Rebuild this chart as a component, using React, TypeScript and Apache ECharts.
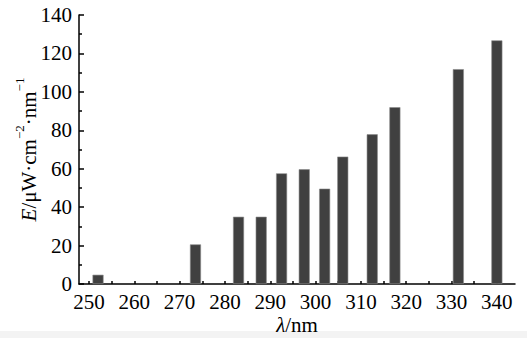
import React, { useEffect, useRef } from "react";
import * as echarts from "echarts";

const wavelengths = [252, 273.5, 283, 288, 292.5, 297.5, 302, 306, 312.5, 317.5, 331.5, 340];
const irradiance = [4.8, 20.6, 35, 35, 57.6, 59.7, 49.6, 66.3, 77.9, 92, 111.8, 126.8];
const xTickLabels = [250, 260, 270, 280, 290, 300, 310, 320, 330, 340];
const xTicks = [250, 255, 260, 265, 270, 275, 280, 285, 290, 295, 300, 305, 310, 315, 320, 325, 330, 335, 340];

const FONT = "Liberation Serif";

export default function App() {
  const ref = useRef<HTMLDivElement>(null);
  useEffect(() => {
    if (!ref.current) return;
    const chart = echarts.init(ref.current, null, { renderer: "svg" });
    chart.setOption({
      animation: false,
      backgroundColor: "#ffffff",
      grid: { left: 79, right: 12, top: 15, bottom: 54, containLabel: false, outerBoundsMode: "none" },
      graphic: [
        { type: "rect", left: 0, top: 331, shape: { width: 527, height: 7 }, style: { fill: "#f3f3f3" }, silent: true, z: -10 },
      ],
      xAxis: {
        type: "value",
        min: 247.8,
        max: 344,
        axisLine: { show: true, lineStyle: { color: "#000", width: 1.5 } },
        axisTick: { show: true, inside: true, length: 3, customValues: xTicks, lineStyle: { color: "#000", width: 1.5 } },
        axisLabel: { customValues: xTickLabels, fontFamily: FONT, fontSize: 21, color: "#000", margin: 7 },
        splitLine: { show: false },
        name: "{i|λ}{n|/nm}",
        nameLocation: "middle",
        nameGap: 30,
        nameMoveOverlap: false,
        nameTextStyle: {
          rich: {
            i: { fontFamily: FONT, fontSize: 21, fontStyle: "italic", color: "#000" },
            n: { fontFamily: FONT, fontSize: 21, color: "#000" },
          },
        },
      },
      yAxis: {
        type: "value",
        min: 0,
        max: 140,
        interval: 20,
        axisLine: { show: true, lineStyle: { color: "#000", width: 1.5 } },
        axisTick: { show: true, inside: true, length: 5, lineStyle: { color: "#000", width: 1.5 } },
        minorTick: { show: true, splitNumber: 2, length: 3, lineStyle: { color: "#000", width: 1.5 } },
        axisLabel: { fontFamily: FONT, fontSize: 21, color: "#000", margin: 7 },
        splitLine: { show: false },
        name: "{i|E}{n|/μW·cm}{s|−2}{n|·nm}{s|−1}",
        nameLocation: "middle",
        nameGap: 40,
        nameMoveOverlap: false,
        nameRotate: 90,
        nameTextStyle: {
          rich: {
            i: { fontFamily: FONT, fontSize: 21, fontStyle: "italic", color: "#000", lineHeight: 26, verticalAlign: "bottom" },
            n: { fontFamily: FONT, fontSize: 21, color: "#000", lineHeight: 26, verticalAlign: "bottom" },
            s: { fontFamily: FONT, fontSize: 13, color: "#000", lineHeight: 26, verticalAlign: "top" },
          },
        },
      },
      series: [
        {
          type: "bar",
          data: wavelengths.map((w, i) => [w, irradiance[i]]),
          barWidth: 11,
          itemStyle: { color: "#404040", borderColor: "#8a8a8a", borderWidth: 0.6 },
        },
      ],
    });
    return () => chart.dispose();
  }, []);
  return <div ref={ref} style={{ width: 527, height: 338, position: "absolute", left: 0, top: 0 }} />;
}
